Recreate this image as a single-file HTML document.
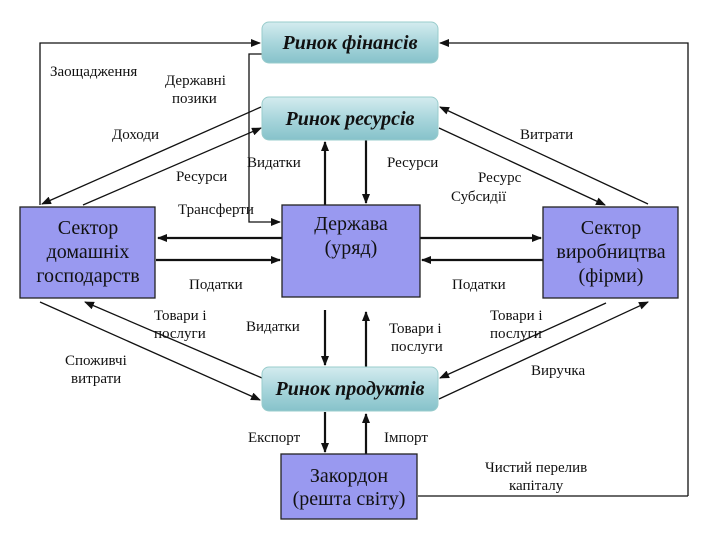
<!DOCTYPE html>
<html><head><meta charset="utf-8"><style>
body{margin:0;background:#fff;}
svg{display:block;}
text{font-family:"Liberation Serif",serif;fill:#111;}
</style></head><body>
<svg width="720" height="539" viewBox="0 0 720 539" xmlns="http://www.w3.org/2000/svg">
<defs>
<linearGradient id="g" x1="0" y1="0" x2="0" y2="1">
<stop offset="0" stop-color="#d4ecef"/><stop offset="0.5" stop-color="#a9d6dc"/><stop offset="1" stop-color="#86c2ca"/>
</linearGradient>
<marker id="a" markerWidth="10" markerHeight="8" refX="9" refY="4" orient="auto" markerUnits="userSpaceOnUse">
<path d="M0,0 L10,4 L0,8 Z" fill="#111"/></marker>
</defs>
<g stroke="#111" fill="none" stroke-width="1.3">
<polyline points="40,205 40,43 260,43" marker-end="url(#a)"/>
<polyline points="688,496 688,43 440,43" marker-end="url(#a)"/>
<line x1="688" y1="496" x2="418" y2="496"/>
<polyline points="262,54 249,54 249,222 280,222" marker-end="url(#a)"/>
<line x1="261" y1="107" x2="42" y2="204" marker-end="url(#a)"/>
<line x1="83" y1="205" x2="261" y2="128" marker-end="url(#a)"/>
<line x1="439" y1="128" x2="605" y2="205" marker-end="url(#a)"/>
<line x1="648" y1="204" x2="440" y2="107" marker-end="url(#a)"/>
<line x1="40" y1="302" x2="260" y2="400" marker-end="url(#a)"/>
<line x1="262" y1="378" x2="85" y2="302" marker-end="url(#a)"/>
<line x1="606" y1="303" x2="440" y2="378" marker-end="url(#a)"/>
<line x1="439" y1="399" x2="648" y2="302" marker-end="url(#a)"/>
</g>
<g stroke="#111" fill="none" stroke-width="2.2">
<line x1="325" y1="205" x2="325" y2="142" marker-end="url(#a)"/>
<line x1="366" y1="140" x2="366" y2="203" marker-end="url(#a)"/>
<line x1="282" y1="238" x2="158" y2="238" marker-end="url(#a)"/>
<line x1="156" y1="260" x2="280" y2="260" marker-end="url(#a)"/>
<line x1="420" y1="238" x2="541" y2="238" marker-end="url(#a)"/>
<line x1="543" y1="260" x2="422" y2="260" marker-end="url(#a)"/>
<line x1="325" y1="310" x2="325" y2="365" marker-end="url(#a)"/>
<line x1="366" y1="367" x2="366" y2="312" marker-end="url(#a)"/>
<line x1="325" y1="412" x2="325" y2="452" marker-end="url(#a)"/>
<line x1="366" y1="454" x2="366" y2="414" marker-end="url(#a)"/>
</g>
<rect x="48" y="62" width="98" height="18" fill="#fff"/>
<g stroke="#9cc" stroke-width="1">
<rect x="262" y="22" width="176" height="41" rx="7" fill="url(#g)"/>
<rect x="262" y="97" width="176" height="43" rx="7" fill="url(#g)"/>
<rect x="262" y="367" width="176" height="44" rx="7" fill="url(#g)"/>
</g>
<g font-size="20" font-weight="bold" font-style="italic" text-anchor="middle">
<text x="350" y="49">Ринок фінансів</text>
<text x="350" y="125">Ринок ресурсів</text>
<text x="350" y="395">Ринок продуктів</text>
</g>
<g fill="#9999f0" stroke="#222" stroke-width="1.3">
<rect x="20" y="207" width="135" height="91"/>
<rect x="282" y="205" width="138" height="92"/>
<rect x="543" y="207" width="135" height="91"/>
<rect x="281" y="454" width="136" height="65"/>
</g>
<g font-size="20" text-anchor="middle">
<text x="88" y="234">Сектор</text><text x="88" y="258">домашніх</text><text x="88" y="282">господарств</text>
<text x="351" y="230">Держава</text><text x="351" y="254">(уряд)</text>
<text x="611" y="234">Сектор</text><text x="611" y="258">виробництва</text><text x="611" y="282">(фірми)</text>
<text x="349" y="482">Закордон</text><text x="349" y="505">(решта світу)</text>
</g>
<g font-size="15">
<text x="50" y="76">Заощадження</text>
<text x="165" y="85">Державні</text><text x="172" y="103">позики</text>
<text x="112" y="139">Доходи</text>
<text x="520" y="139">Витрати</text>
<text x="176" y="181">Ресурси</text>
<text x="247" y="167">Видатки</text>
<text x="387" y="167">Ресурси</text>
<text x="478" y="182">Ресурс</text>
<text x="451" y="201">Субсидії</text>
<text x="178" y="214">Трансферти</text>
<text x="189" y="289">Податки</text>
<text x="452" y="289">Податки</text>
<text x="154" y="320">Товари і</text><text x="154" y="338">послуги</text>
<text x="246" y="331">Видатки</text>
<text x="389" y="333">Товари і</text><text x="391" y="351">послуги</text>
<text x="490" y="320">Товари і</text><text x="490" y="338">послуги</text>
<text x="65" y="365">Споживчі</text><text x="71" y="383">витрати</text>
<text x="531" y="375">Виручка</text>
<text x="248" y="442">Експорт</text>
<text x="384" y="442">Імпорт</text>
<text x="485" y="472">Чистий перелив</text><text x="509" y="490">капіталу</text>
</g>
</svg>
</body></html>
